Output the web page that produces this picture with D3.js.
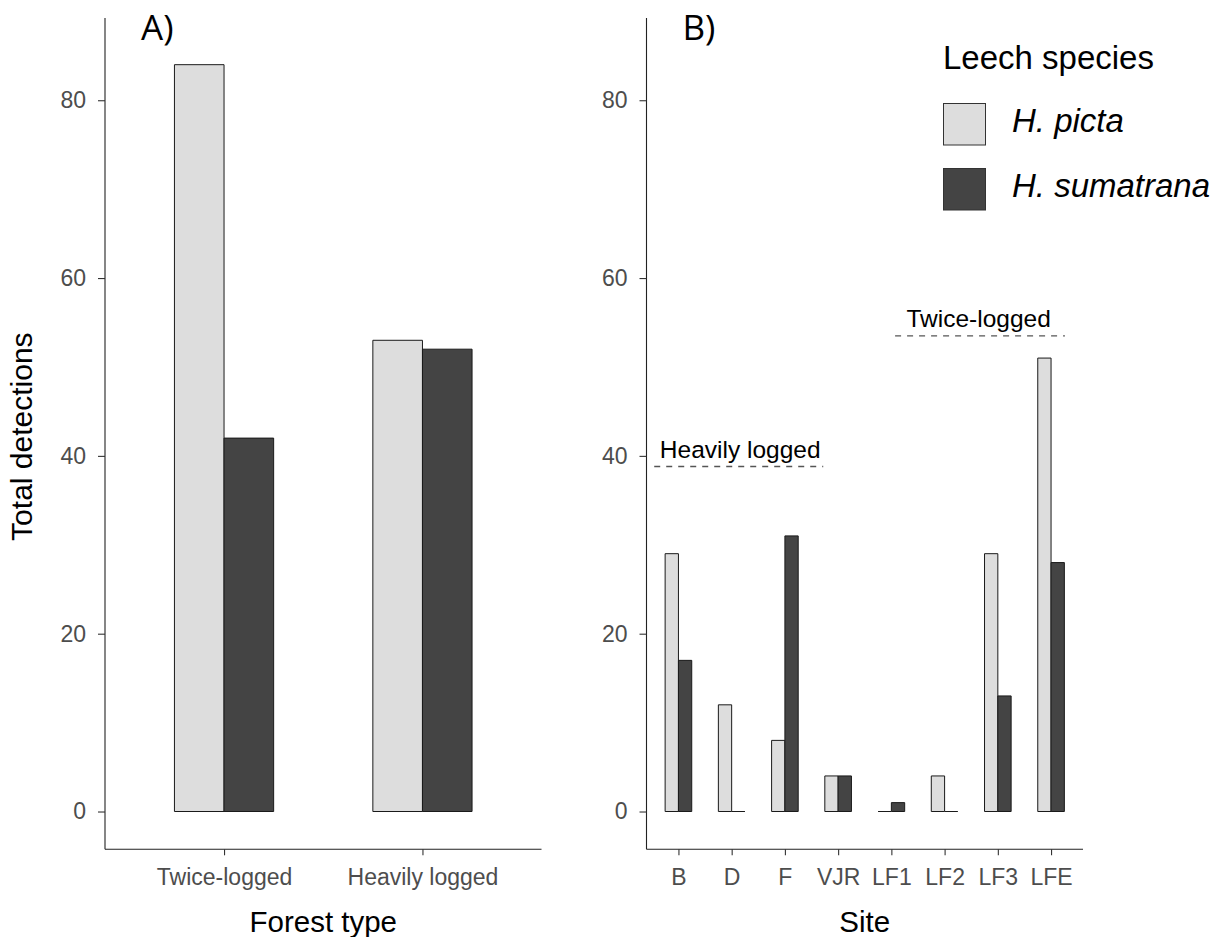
<!DOCTYPE html>
<html>
<head>
<meta charset="utf-8">
<script src="https://cdn.jsdelivr.net/npm/d3@7/dist/d3.min.js"></script>
<style>
  html, body { margin: 0; padding: 0; background: #fff; }
  svg { display: block; font-family: "Liberation Sans", Arial, sans-serif; }
</style>
</head>
<body>
<svg id="chart" width="1230" height="937"></svg>
<script>
// ---- data ----
const species = ["H. picta", "H. sumatrana"];
const speciesFill = ["#dddddd", "#444444"];

const forestTypes = ["Twice-logged", "Heavily logged"];
const forestPicta = [84, 53];
const forestSumatrana = [42, 52];

const sites = ["B", "D", "F", "VJR", "LF1", "LF2", "LF3", "LFE"];
const sitePicta = [29, 12, 8, 4, 0, 4, 29, 51];
const siteSumatrana = [17, 0, 31, 4, 1, 0, 13, 28];

const yTicks = [0, 20, 40, 60, 80];
const yLimits = [0, 85];

// bracket annotations over the site panel (x in site-index units, 1 = first site)
const groupLabels = ["Heavily logged", "Twice-logged"];
const groupStart = [0.545, 5.07];
const groupEnd = [3.72, 8.26];
const groupLineY = [38.8, 53.5];
const groupTextX = [2.16, 6.64];
const groupTextY = [40.8, 55.5];

// ---- layout ----
const svg = d3.select("#chart");
const panelTop = 18, panelBottom = 849.3;
const axisColor = "#222";
const tickTextColor = "#4d4d4d";

const expand = (yLimits[1] - yLimits[0]) * 0.05;
const y = d3.scaleLinear()
  .domain([yLimits[0] - expand, yLimits[1] + expand])
  .range([panelBottom, panelTop]);

function drawPanel(opts) {
  const { left, right, cats, a, b, tag, xTitle } = opts;
  const x = d3.scalePoint().domain(cats).range([left, right]).padding(0.6);
  const step = x.step();
  const barW = step * 0.25;
  const g = svg.append("g");

  // bars: drawn as paths so zero counts still show as a flat outline
  const rows = [];
  cats.forEach((c, i) => {
    rows.push({ cat: c, s: 0, v: a[i] });
    rows.push({ cat: c, s: 1, v: b[i] });
  });
  g.selectAll("path.bar").data(rows).join("path")
    .attr("class", "bar")
    .attr("d", d => {
      const x0 = x(d.cat) + (d.s === 0 ? -barW : 0);
      const x1 = x0 + barW;
      const y0 = y(0), y1 = y(d.v);
      if (d.v === 0) return `M${x0},${y0}H${x1}`;
      return `M${x0},${y0}V${y1}H${x1}V${y0}Z`;
    })
    .attr("fill", d => speciesFill[d.s])
    .attr("stroke", "#1a1a1a")
    .attr("stroke-width", 1);

  // y axis
  const yAxis = d3.axisLeft(y).tickValues(yTicks).tickSize(7).tickPadding(12);
  const ya = g.append("g").attr("transform", `translate(${left},0)`).call(yAxis);
  ya.select(".domain").attr("d", `M0,${panelTop}V${panelBottom}`).attr("stroke", axisColor).attr("stroke-width", 1.1);
  ya.selectAll(".tick line").attr("stroke", "#333").attr("stroke-width", 1.1);
  ya.selectAll(".tick text").attr("fill", tickTextColor)
    .style("font-size", "23px").style("font-family", "Liberation Sans, Arial, sans-serif");

  // x axis
  const xAxis = d3.axisBottom(x).tickSize(6).tickPadding(12);
  const xa = g.append("g").attr("transform", `translate(0,${panelBottom})`).call(xAxis);
  xa.select(".domain").attr("d", `M${left},0H${right}`).attr("stroke", axisColor).attr("stroke-width", 1.1);
  xa.selectAll(".tick line").attr("stroke", "#333").attr("stroke-width", 1.1);
  xa.selectAll(".tick text").attr("fill", tickTextColor)
    .attr("dy", null).attr("y", 36)
    .style("font-size", "23px").style("font-family", "Liberation Sans, Arial, sans-serif");

  // axis title
  g.append("text")
    .attr("x", (left + right) / 2).attr("y", 931.5)
    .attr("text-anchor", "middle")
    .style("font-size", "29.5px").attr("fill", "#000")
    .text(xTitle);

  // panel tag
  g.append("text")
    .attr("x", left + opts.tagDx).attr("y", 39.5)
    .style("font-family", "Open Sans, Noto Sans, sans-serif")
    .style("font-size", "35px").attr("fill", "#000")
    .text(tag);

  return x;
}

// panel A: totals by forest type
drawPanel({
  left: 105, right: 541.5, cats: forestTypes,
  a: forestPicta, b: forestSumatrana, tag: "A)", tagDx: 36, xTitle: "Forest type"
});

// panel B: totals by site
const xSite = drawPanel({
  left: 646.5, right: 1083, cats: sites,
  a: sitePicta, b: siteSumatrana, tag: "B)", tagDx: 36, xTitle: "Site"
});

// site-index to pixel helper for the group brackets
const siteIdx = d3.scaleLinear()
  .domain([1, sites.length])
  .range([xSite(sites[0]), xSite(sites[sites.length - 1])]);

const ann = svg.append("g");
groupLabels.forEach((lab, i) => {
  ann.append("line")
    .attr("x1", siteIdx(groupStart[i])).attr("x2", siteIdx(groupEnd[i]))
    .attr("y1", y(groupLineY[i])).attr("y2", y(groupLineY[i]))
    .attr("stroke", "#555").attr("stroke-width", 1.4)
    .attr("stroke-dasharray", "6,6");
  ann.append("text")
    .attr("x", siteIdx(groupTextX[i]))
    .attr("y", y(groupTextY[i]) + 0.358 * 24.5)
    .attr("text-anchor", "middle")
    .style("font-size", "24.5px").attr("fill", "#000")
    .text(lab);
});

// y axis title (shared, drawn once at the left)
svg.append("text")
  .attr("transform", `translate(32,${(panelTop + panelBottom) / 2 + 3}) rotate(-90)`)
  .attr("text-anchor", "middle")
  .style("font-size", "30px").attr("fill", "#000")
  .text("Total detections");

// legend
const leg = svg.append("g").attr("transform", "translate(943,0)");
leg.append("text")
  .attr("x", 0).attr("y", 68.5)
  .style("font-size", "33px").attr("fill", "#000")
  .text("Leech species");
species.forEach((s, i) => {
  const top = 103.5 + i * 65;
  leg.append("rect")
    .attr("x", 0.5).attr("y", top)
    .attr("width", 42).attr("height", 41.5)
    .attr("fill", speciesFill[i])
    .attr("stroke", "#333").attr("stroke-width", 1);
  leg.append("text")
    .attr("x", 69).attr("y", top + 28.5)
    .style("font-size", "33px").style("font-style", "italic").attr("fill", "#000")
    .text(s);
});
</script>
</body>
</html>
